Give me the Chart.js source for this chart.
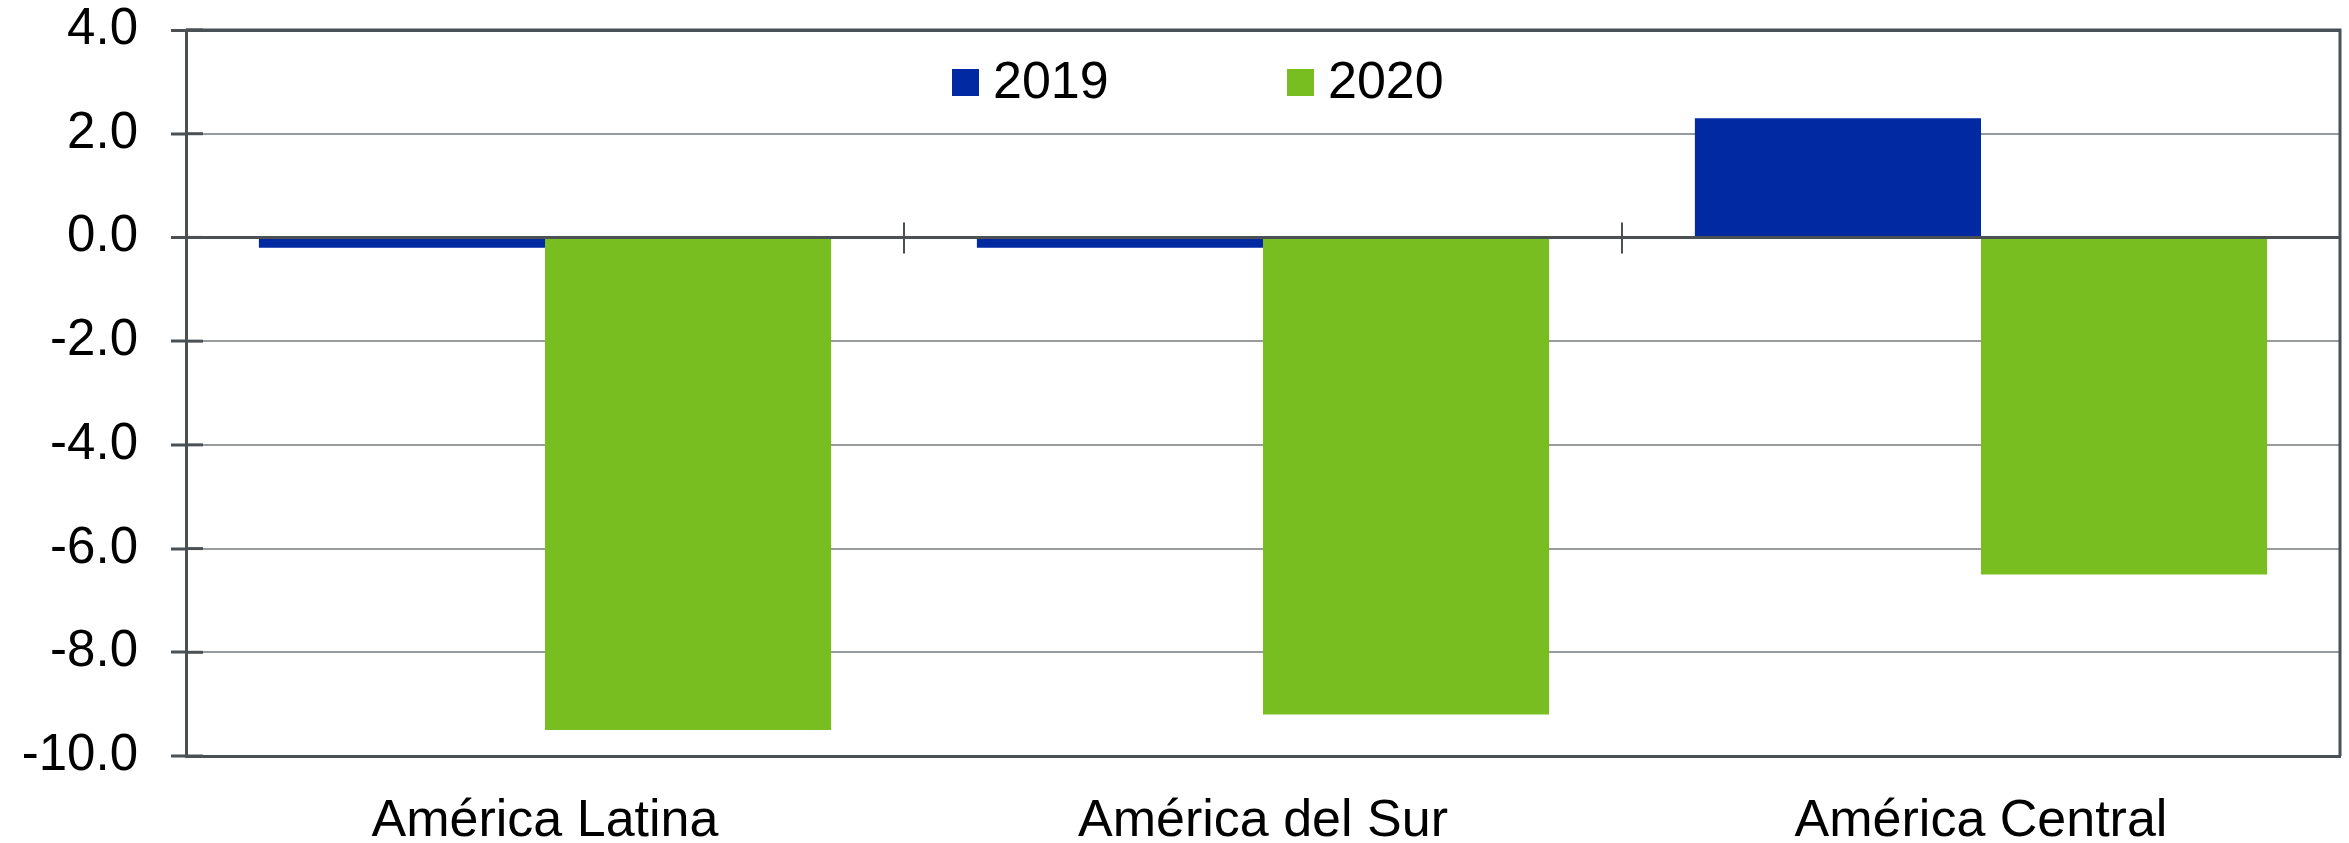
<!DOCTYPE html>
<html>
<head>
<meta charset="utf-8">
<script src="https://cdn.jsdelivr.net/npm/chart.js@4/dist/chart.umd.min.js"></script>
<style>
html, body { margin: 0; padding: 0; background: #fff; }
#wrap { width: 2349px; height: 843px; }
</style>
</head>
<body>
<div id="wrap"><canvas id="grafico" width="2349" height="843"></canvas></div>
<script>
var regiones = ['América Latina', 'América del Sur', 'América Central'];
var anios = ['2019', '2020'];
var valores2019 = [-0.2, -0.2, 2.3];
var valores2020 = [-9.5, -9.2, -6.5];
var colores = ['#0029a2', '#78be20'];

var colorEje = '#4b5055';
var colorRejilla = '#979b9f';
var fuente = '"Liberation Sans", Arial, sans-serif';

// leyenda dentro del area y marcas de categoria sobre el cero
var extras = {
    id: 'extras',
    afterDatasetsDraw: function(chart) {
        let ctx = chart.ctx;
        let area = chart.chartArea;
        let x = chart.scales.x;
        let y = chart.scales.y;
        let cero = y.getPixelForValue(0);
        ctx.save();
        // linea del cero por encima de las barras
        ctx.strokeStyle = colorEje;
        ctx.lineWidth = 3;
        ctx.beginPath();
        ctx.moveTo(area.left, cero);
        ctx.lineTo(area.right, cero);
        ctx.stroke();
        ctx.lineWidth = 2;
        for (let i = 0; i < regiones.length - 1; i++) {
            let xm = (x.getPixelForValue(i) + x.getPixelForValue(i + 1)) / 2;
            ctx.beginPath();
            ctx.moveTo(xm, cero - 15);
            ctx.lineTo(xm, cero + 16);
            ctx.stroke();
        }
        // marcas del eje y que cruzan hacia dentro
        ctx.lineWidth = 3;
        y.ticks.forEach(function(t) {
            let py = y.getPixelForValue(t.value);
            ctx.beginPath();
            ctx.moveTo(area.left, py);
            ctx.lineTo(area.left + 17, py);
            ctx.stroke();
        });
        // borde derecho y superior
        ctx.beginPath();
        ctx.moveTo(area.left, area.top);
        ctx.lineTo(area.right, area.top);
        ctx.lineTo(area.right, area.bottom);
        ctx.stroke();
        // leyenda
        ctx.font = '52px ' + fuente;
        ctx.textBaseline = 'middle';
        ctx.fillStyle = '#000';
        let posiciones = [952, 1287];
        chart.data.datasets.forEach(function(ds, i) {
            ctx.fillStyle = ds.backgroundColor;
            ctx.fillRect(posiciones[i], 69, 27, 27);
            ctx.fillStyle = '#000';
            ctx.fillText(ds.label, posiciones[i] + 41, 84);
        });
        ctx.restore();
    }
};

new Chart(document.getElementById('grafico').getContext('2d'), {
    type: 'bar',
    data: {
        labels: regiones,
        datasets: [{
            label: anios[0],
            data: valores2019,
            backgroundColor: colores[0]
        }, {
            label: anios[1],
            data: valores2020,
            backgroundColor: colores[1]
        }]
    },
    options: {
        responsive: false,
        animation: false,
        layout: { padding: { top: 0, right: 9, left: 0, bottom: 0 } },
        datasets: { bar: { categoryPercentage: 0.797, barPercentage: 1.0 } },
        plugins: {
            legend: { display: false },
            tooltip: { enabled: false }
        },
        scales: {
            x: {
                grid: { display: false, drawTicks: false },
                border: { display: true, color: colorEje, width: 3 },
                ticks: {
                    color: '#000',
                    padding: 34,
                    font: { family: fuente, size: 52 }
                },
                afterFit: function(scale) { scale.height = 87; }
            },
            y: {
                min: -10,
                max: 4,
                ticks: {
                    stepSize: 2,
                    color: '#000',
                    padding: 33,
                    font: { family: fuente, size: 51 },
                    callback: function(v) { return v.toFixed(1); }
                },
                grid: {
                    color: function(c) {
                        return (c.tick && (c.tick.value === 0 || c.tick.value === 4 || c.tick.value === -10)) ? colorEje : colorRejilla;
                    },
                    lineWidth: function(c) {
                        return (c.tick && (c.tick.value === 0 || c.tick.value === 4)) ? 3 : 2;
                    },
                    tickLength: 15,
                    tickColor: colorEje,
                    tickWidth: 3
                },
                border: { display: true, color: colorEje, width: 3 },
                afterFit: function(scale) {
                    scale.width = 186;
                    scale.paddingTop = 30;
                    scale.paddingBottom = 0;
                }
            }
        }
    },
    plugins: [extras]
});
</script>
</body>
</html>
